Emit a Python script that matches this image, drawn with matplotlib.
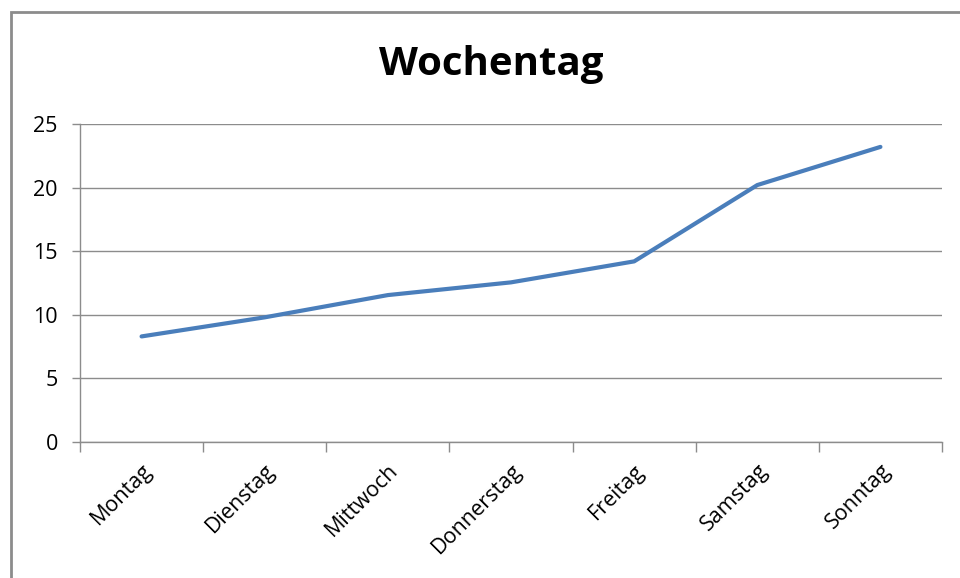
import matplotlib.pyplot as plt
from matplotlib.patches import Rectangle
import numpy as np

# ---------------- Daten ----------------
tage = ['Montag', 'Dienstag', 'Mittwoch', 'Donnerstag', 'Freitag', 'Samstag', 'Sonntag']
werte = [8.3, 9.8, 11.55, 12.55, 14.2, 20.2, 23.2]

plt.rcParams['font.family'] = ['Open Sans', 'DejaVu Sans']
grau = '#8c8c8c'

fig = plt.figure(figsize=(9.6, 5.78), dpi=100)
ax = fig.add_axes([80/960, 1-442/578, 862/960, 318/578])

x = np.arange(len(tage))
ax.plot(x, werte, color='#4a7ebb', lw=3, solid_capstyle='round')

ax.set_xlim(-0.5, len(tage) - 0.5)
ax.set_ylim(0, 25)
ax.set_yticks(range(0, 26, 5))
ax.grid(axis='y', color=grau, lw=1)
ax.set_axisbelow(True)

for s in ['top', 'right']:
    ax.spines[s].set_visible(False)
for s in ['left', 'bottom']:
    ax.spines[s].set_color(grau)
    ax.spines[s].set_linewidth(1)

ax.set_xticks(x)
ax.set_xticklabels(tage, rotation=45, ha='right', rotation_mode='anchor', fontsize=15.5)
ax.set_xticks(np.arange(-0.5, len(tage)), minor=True)
ax.tick_params(axis='x', which='major', length=0, pad=13)
ax.tick_params(axis='x', which='minor', length=7, color=grau, width=1)
ax.tick_params(axis='y', length=6, color=grau, width=1, labelsize=15.5, pad=10)

fig.text(491/960, 1-65/578, 'Wochentag', ha='center', va='center',
         fontsize=29, fontweight='bold')

# Rahmen
fig.patches.append(Rectangle((11/960, -0.1), 1.2, 1 - 12/578 + 0.1,
                             transform=fig.transFigure, fill=False,
                             edgecolor=grau, lw=2))

fig.savefig('out.png', dpi=100)
